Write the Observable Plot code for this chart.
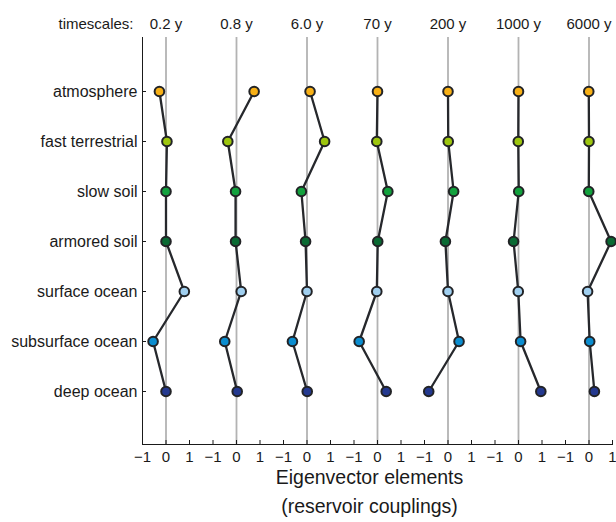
<!DOCTYPE html>
<html>
<head>
<meta charset="utf-8">
<script src="https://cdn.jsdelivr.net/npm/d3@7"></script>
<script src="https://cdn.jsdelivr.net/npm/@observablehq/plot@0.6"></script>
<style>
  html, body { margin: 0; padding: 0; background: #fff; }
  #chart svg { display: block; }
</style>
</head>
<body>
<div id="chart"></div>
<script>
const reservoirs = ["atmosphere", "fast terrestrial", "slow soil", "armored soil", "surface ocean", "subsurface ocean", "deep ocean"];
const reservoirColors = ["#f7b016", "#9dc60f", "#12a13d", "#0a6a33", "#a0cfef", "#0b8dcf", "#24398f"];
const timescales = ["0.2 y", "0.8 y", "6.0 y", "70 y", "200 y", "1000 y", "6000 y"];
const v0_2 = [-0.28, 0.04, 0.00, 0.00, 0.78, -0.55, 0.00];
const v0_8 = [0.75, -0.37, -0.04, -0.04, 0.20, -0.50, 0.03];
const v6_0 = [0.13, 0.75, -0.24, -0.06, 0.00, -0.62, 0.01];
const v70 = [0.00, -0.03, 0.44, 0.01, -0.03, -0.78, 0.37];
const v200 = [0.00, 0.01, 0.24, -0.11, 0.00, 0.47, -0.82];
const v1000 = [0.00, -0.01, 0.01, -0.21, -0.01, 0.09, 0.95];
const v6000 = [-0.01, 0.00, -0.01, 0.94, -0.06, 0.03, 0.23];
const xTickLabels = ["\u22121", "0", "1"];
const titleLabel = "timescales:";
const axisTitle = "Eigenvector elements\n(reservoir couplings)";

const series = [v0_2, v0_8, v6_0, v70, v200, v1000, v6000];
const step = 3; // each panel spans [-1, 1] plus one unit gap
const rows = [];
series.forEach((vals, i) => {
  vals.forEach((v, j) => {
    rows.push({ts: timescales[i], res: reservoirs[j], v, pos: i * step + v});
  });
});
const zeros = timescales.map((t, i) => ({ts: t, pos: i * step}));
const xTicks = [];
timescales.forEach((t, i) => { xTicks.push(i * step - 1, i * step, i * step + 1); });
const fmt = d => {
  const r = Math.round(d - step * Math.round(d / step));
  return xTickLabels[r + 1];
};

const chart = Plot.plot({
  width: 616,
  height: 522,
  marginLeft: 142,
  marginRight: 4,
  marginTop: 37,
  marginBottom: 78,
  style: {fontFamily: "'Liberation Sans', Arial, Helvetica, sans-serif", fontSize: "15px", color: "#1a1a1a", background: "#fff"},
  x: {domain: [-1, (timescales.length - 1) * step + 1]},
  y: {domain: reservoirs, type: "point", padding: 1},
  color: {domain: reservoirs, range: reservoirColors},
  marks: [
    Plot.ruleX(zeros, {x: "pos", stroke: "#b3b3b3", strokeWidth: 1.8}),
    Plot.frame({anchor: "left", stroke: "#1a1a1a", strokeWidth: 1}),
    Plot.frame({anchor: "bottom", stroke: "#1a1a1a", strokeWidth: 1}),
    Plot.axisX({ticks: xTicks, tickFormat: fmt, tickSize: -4, tickPadding: 11, fontSize: 15, label: null, stroke: "#1a1a1a"}),
    Plot.axisY({tickSize: -4, tickPadding: 9, fontSize: 16, label: null, stroke: "#1a1a1a"}),
    Plot.line(rows, {x: "pos", y: "res", z: "ts", stroke: "#26282c", strokeWidth: 2.3}),
    Plot.dot(rows, {x: "pos", y: "res", fill: "res", r: 4.8, stroke: "#222326", strokeWidth: 2}),
    Plot.text(zeros, {x: "pos", text: "ts", frameAnchor: "top", dy: -19, fontSize: 15, fill: "#1a1a1a"}),
    Plot.text([titleLabel], {text: d => d, frameAnchor: "top-left", dx: -9, dy: -19, textAnchor: "end", fontSize: 15, fill: "#1a1a1a"}),
    Plot.text([axisTitle], {text: d => d, frameAnchor: "bottom", dx: -8, dy: 18, lineAnchor: "top", lineHeight: 1.52, fontSize: 19.5, fill: "#1a1a1a"})
  ]
});
document.getElementById("chart").appendChild(chart);
</script>
</body>
</html>
